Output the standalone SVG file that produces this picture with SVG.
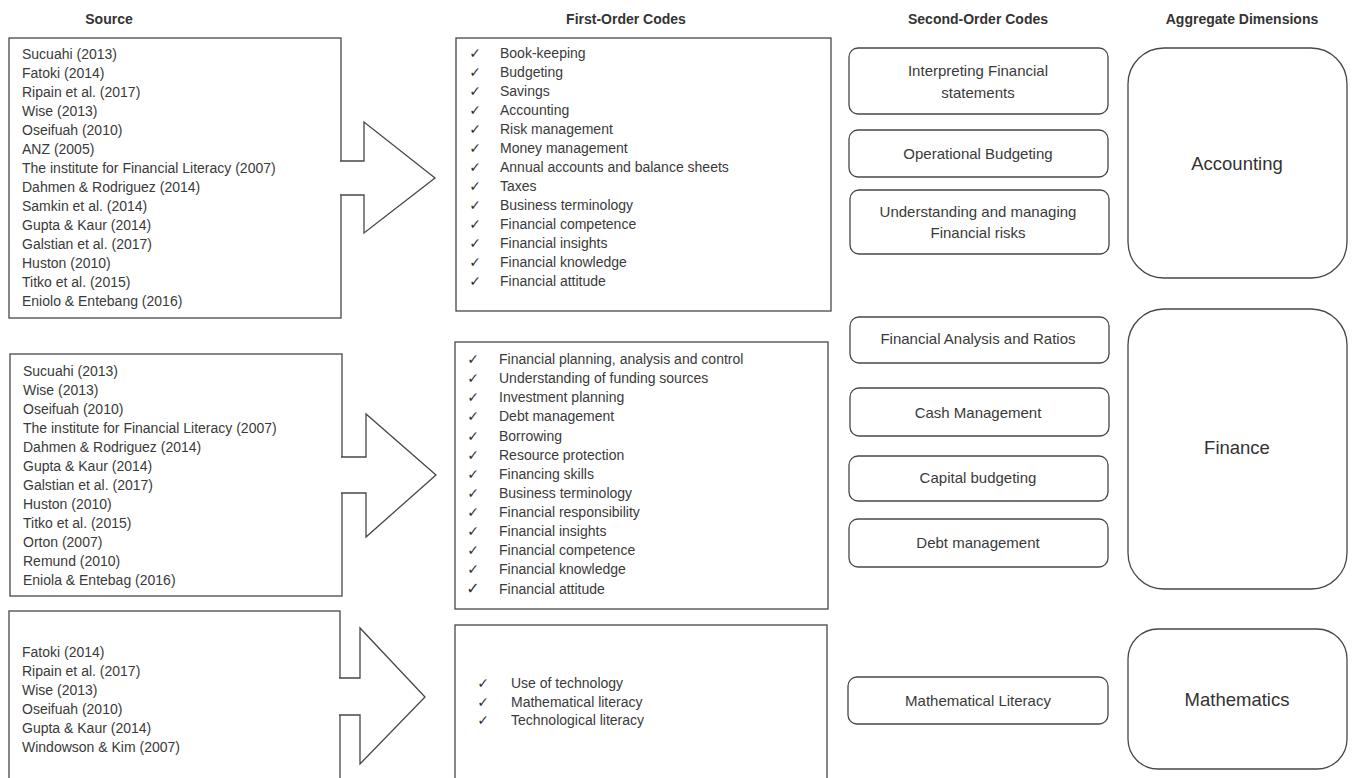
<svg xmlns="http://www.w3.org/2000/svg" width="1352" height="778" viewBox="0 0 1352 778">
<style>
  .bg{fill:#ffffff}
  .box{fill:#ffffff;stroke:#474747;stroke-width:1.3}
  .hdr{font-family:"Liberation Sans",Arial,sans-serif;font-size:14px;font-weight:bold;fill:#333;text-anchor:middle}
  .src{font-family:"Liberation Sans",Arial,sans-serif;font-size:14px;fill:#3a3a3a}
  .fo{font-family:"Liberation Sans",Arial,sans-serif;font-size:14px;fill:#3a3a3a}
  .ck{font-family:"DejaVu Sans",sans-serif;font-size:14px;fill:#333333;text-anchor:middle}
  .so{font-family:"Liberation Sans",Arial,sans-serif;font-size:15px;fill:#3a3a3a;text-anchor:middle}
  .agg{font-family:"Liberation Sans",Arial,sans-serif;font-size:18.5px;fill:#333;text-anchor:middle}
  .arrow{fill:#ffffff;stroke:#474747;stroke-width:1.3;stroke-linejoin:miter}
</style>
<rect class="bg" x="0" y="0" width="1352" height="778"/>

<g id="headers">
  <text class="hdr" x="109" y="24">Source</text>
  <text class="hdr" x="626" y="24">First-Order Codes</text>
  <text class="hdr" x="978" y="24">Second-Order Codes</text>
  <text class="hdr" x="1242" y="24">Aggregate Dimensions</text>
</g>

<g id="nodes">
  <g id="source-1">
    <rect class="box" x="9" y="38" width="332" height="280"/>
    <text class="src" x="22" y="59">Sucuahi (2013)</text>
    <text class="src" x="22" y="78">Fatoki (2014)</text>
    <text class="src" x="22" y="97">Ripain et al. (2017)</text>
    <text class="src" x="22" y="116">Wise (2013)</text>
    <text class="src" x="22" y="135">Oseifuah (2010)</text>
    <text class="src" x="22" y="154">ANZ (2005)</text>
    <text class="src" x="22" y="173">The institute for Financial Literacy (2007)</text>
    <text class="src" x="22" y="192">Dahmen &amp; Rodriguez (2014)</text>
    <text class="src" x="22" y="211">Samkin et al. (2014)</text>
    <text class="src" x="22" y="230">Gupta &amp; Kaur (2014)</text>
    <text class="src" x="22" y="249">Galstian et al. (2017)</text>
    <text class="src" x="22" y="268">Huston (2010)</text>
    <text class="src" x="22" y="287">Titko et al. (2015)</text>
    <text class="src" x="22" y="306">Eniolo &amp; Entebang (2016)</text>
  </g>
  <g id="source-2">
    <rect class="box" x="10" y="354" width="332" height="242"/>
    <text class="src" x="23" y="376">Sucuahi (2013)</text>
    <text class="src" x="23" y="395">Wise (2013)</text>
    <text class="src" x="23" y="414">Oseifuah (2010)</text>
    <text class="src" x="23" y="433">The institute for Financial Literacy (2007)</text>
    <text class="src" x="23" y="452">Dahmen &amp; Rodriguez (2014)</text>
    <text class="src" x="23" y="471">Gupta &amp; Kaur (2014)</text>
    <text class="src" x="23" y="490">Galstian et al. (2017)</text>
    <text class="src" x="23" y="509">Huston (2010)</text>
    <text class="src" x="23" y="528">Titko et al. (2015)</text>
    <text class="src" x="23" y="547">Orton (2007)</text>
    <text class="src" x="23" y="566">Remund (2010)</text>
    <text class="src" x="23" y="585">Eniola &amp; Entebag (2016)</text>
  </g>
  <g id="source-3">
    <rect class="box" x="9" y="611" width="331" height="190"/>
    <text class="src" x="22" y="657">Fatoki (2014)</text>
    <text class="src" x="22" y="676">Ripain et al. (2017)</text>
    <text class="src" x="22" y="695">Wise (2013)</text>
    <text class="src" x="22" y="714">Oseifuah (2010)</text>
    <text class="src" x="22" y="733">Gupta &amp; Kaur (2014)</text>
    <text class="src" x="22" y="752">Windowson &amp; Kim (2007)</text>
  </g>

  <g id="first-order-1">
    <rect class="box" x="456" y="38" width="375" height="273"/>
    <g class="ck">
      <text x="475" y="58">✓&#xFE0E;</text><text x="475" y="77">✓&#xFE0E;</text><text x="475" y="96">✓&#xFE0E;</text>
      <text x="475" y="115">✓&#xFE0E;</text><text x="475" y="134">✓&#xFE0E;</text><text x="475" y="153">✓&#xFE0E;</text>
      <text x="475" y="172">✓&#xFE0E;</text><text x="475" y="191">✓&#xFE0E;</text><text x="475" y="210">✓&#xFE0E;</text>
      <text x="475" y="229">✓&#xFE0E;</text><text x="475" y="248">✓&#xFE0E;</text><text x="475" y="267">✓&#xFE0E;</text>
      <text x="475" y="286">✓&#xFE0E;</text>
    </g>
    <text class="fo" x="500" y="58">Book-keeping</text>
    <text class="fo" x="500" y="77">Budgeting</text>
    <text class="fo" x="500" y="96">Savings</text>
    <text class="fo" x="500" y="115">Accounting</text>
    <text class="fo" x="500" y="134">Risk management</text>
    <text class="fo" x="500" y="153">Money management</text>
    <text class="fo" x="500" y="172">Annual accounts and balance sheets</text>
    <text class="fo" x="500" y="191">Taxes</text>
    <text class="fo" x="500" y="210">Business terminology</text>
    <text class="fo" x="500" y="229">Financial competence</text>
    <text class="fo" x="500" y="248">Financial insights</text>
    <text class="fo" x="500" y="267">Financial knowledge</text>
    <text class="fo" x="500" y="286">Financial attitude</text>
  </g>
  <g id="first-order-2">
    <rect class="box" x="455" y="342" width="373" height="267"/>
    <g class="ck">
      <text x="473" y="364">✓&#xFE0E;</text><text x="473" y="383">✓&#xFE0E;</text><text x="473" y="402">✓&#xFE0E;</text>
      <text x="473" y="421">✓&#xFE0E;</text><text x="473" y="441">✓&#xFE0E;</text><text x="473" y="460">✓&#xFE0E;</text>
      <text x="473" y="479">✓&#xFE0E;</text><text x="473" y="498">✓&#xFE0E;</text><text x="473" y="517">✓&#xFE0E;</text>
      <text x="473" y="536">✓&#xFE0E;</text><text x="473" y="555">✓&#xFE0E;</text><text x="473" y="574">✓&#xFE0E;</text>
      <text x="473" y="594" style="font-size:16px">✓&#xFE0E;</text>
    </g>
    <text class="fo" x="499" y="364">Financial planning, analysis and control</text>
    <text class="fo" x="499" y="383">Understanding of funding sources</text>
    <text class="fo" x="499" y="402">Investment planning</text>
    <text class="fo" x="499" y="421">Debt management</text>
    <text class="fo" x="499" y="441">Borrowing</text>
    <text class="fo" x="499" y="460">Resource protection</text>
    <text class="fo" x="499" y="479">Financing skills</text>
    <text class="fo" x="499" y="498">Business terminology</text>
    <text class="fo" x="499" y="517">Financial responsibility</text>
    <text class="fo" x="499" y="536">Financial insights</text>
    <text class="fo" x="499" y="555">Financial competence</text>
    <text class="fo" x="499" y="574">Financial knowledge</text>
    <text class="fo" x="499" y="594">Financial attitude</text>
  </g>
  <g id="first-order-3">
    <rect class="box" x="455" y="625" width="372" height="180"/>
    <g class="ck">
      <text x="483" y="688">✓&#xFE0E;</text><text x="483" y="707">✓&#xFE0E;</text><text x="483" y="725">✓&#xFE0E;</text>
    </g>
    <text class="fo" x="511" y="688">Use of technology</text>
    <text class="fo" x="511" y="707">Mathematical literacy</text>
    <text class="fo" x="511" y="725">Technological literacy</text>
  </g>

  <g id="so-interpreting">
    <rect class="box" x="849" y="48" width="259" height="66" rx="9"/>
    <text class="so" x="978" y="76">Interpreting Financial</text>
    <text class="so" x="978" y="98">statements</text>
  </g>
  <g id="so-operational-budgeting">
    <rect class="box" x="849" y="130" width="259" height="47" rx="9"/>
    <text class="so" x="978" y="159">Operational Budgeting</text>
  </g>
  <g id="so-risks">
    <rect class="box" x="850" y="190" width="259" height="64" rx="9"/>
    <text class="so" x="978" y="217">Understanding and managing</text>
    <text class="so" x="978" y="238">Financial risks</text>
  </g>
  <g id="so-analysis-ratios">
    <rect class="box" x="850" y="317" width="259" height="46" rx="9"/>
    <text class="so" x="978" y="344">Financial Analysis and Ratios</text>
  </g>
  <g id="so-cash">
    <rect class="box" x="850" y="388" width="259" height="48" rx="9"/>
    <text class="so" x="978" y="418">Cash Management</text>
  </g>
  <g id="so-capital-budgeting">
    <rect class="box" x="849" y="456" width="259" height="45" rx="9"/>
    <text class="so" x="978" y="483">Capital budgeting</text>
  </g>
  <g id="so-debt">
    <rect class="box" x="849" y="519" width="259" height="48" rx="9"/>
    <text class="so" x="978" y="548">Debt management</text>
  </g>
  <g id="so-math-literacy">
    <rect class="box" x="848" y="677" width="260" height="47" rx="9"/>
    <text class="so" x="978" y="706">Mathematical Literacy</text>
  </g>

  <g id="agg-accounting">
    <rect class="box" x="1128" y="48" width="219" height="230" rx="36"/>
    <text class="agg" x="1237" y="170">Accounting</text>
  </g>
  <g id="agg-finance">
    <rect class="box" x="1128" y="309" width="219" height="280" rx="36"/>
    <text class="agg" x="1237" y="454">Finance</text>
  </g>
  <g id="agg-mathematics">
    <rect class="box" x="1128" y="629" width="219" height="140" rx="30"/>
    <text class="agg" x="1237" y="706">Mathematics</text>
  </g>
</g>

<g id="connectors">
  <path class="arrow" d="M340,161 H364 V122 L435,178 L364,233 V195 H340"/>
  <path class="arrow" d="M341,457 H366 V414 L436,475 L366,537 V493 H341"/>
  <path class="arrow" d="M339,678 H360 V628 L425,697 L360,764 V715 H339"/>
</g>
</svg>
